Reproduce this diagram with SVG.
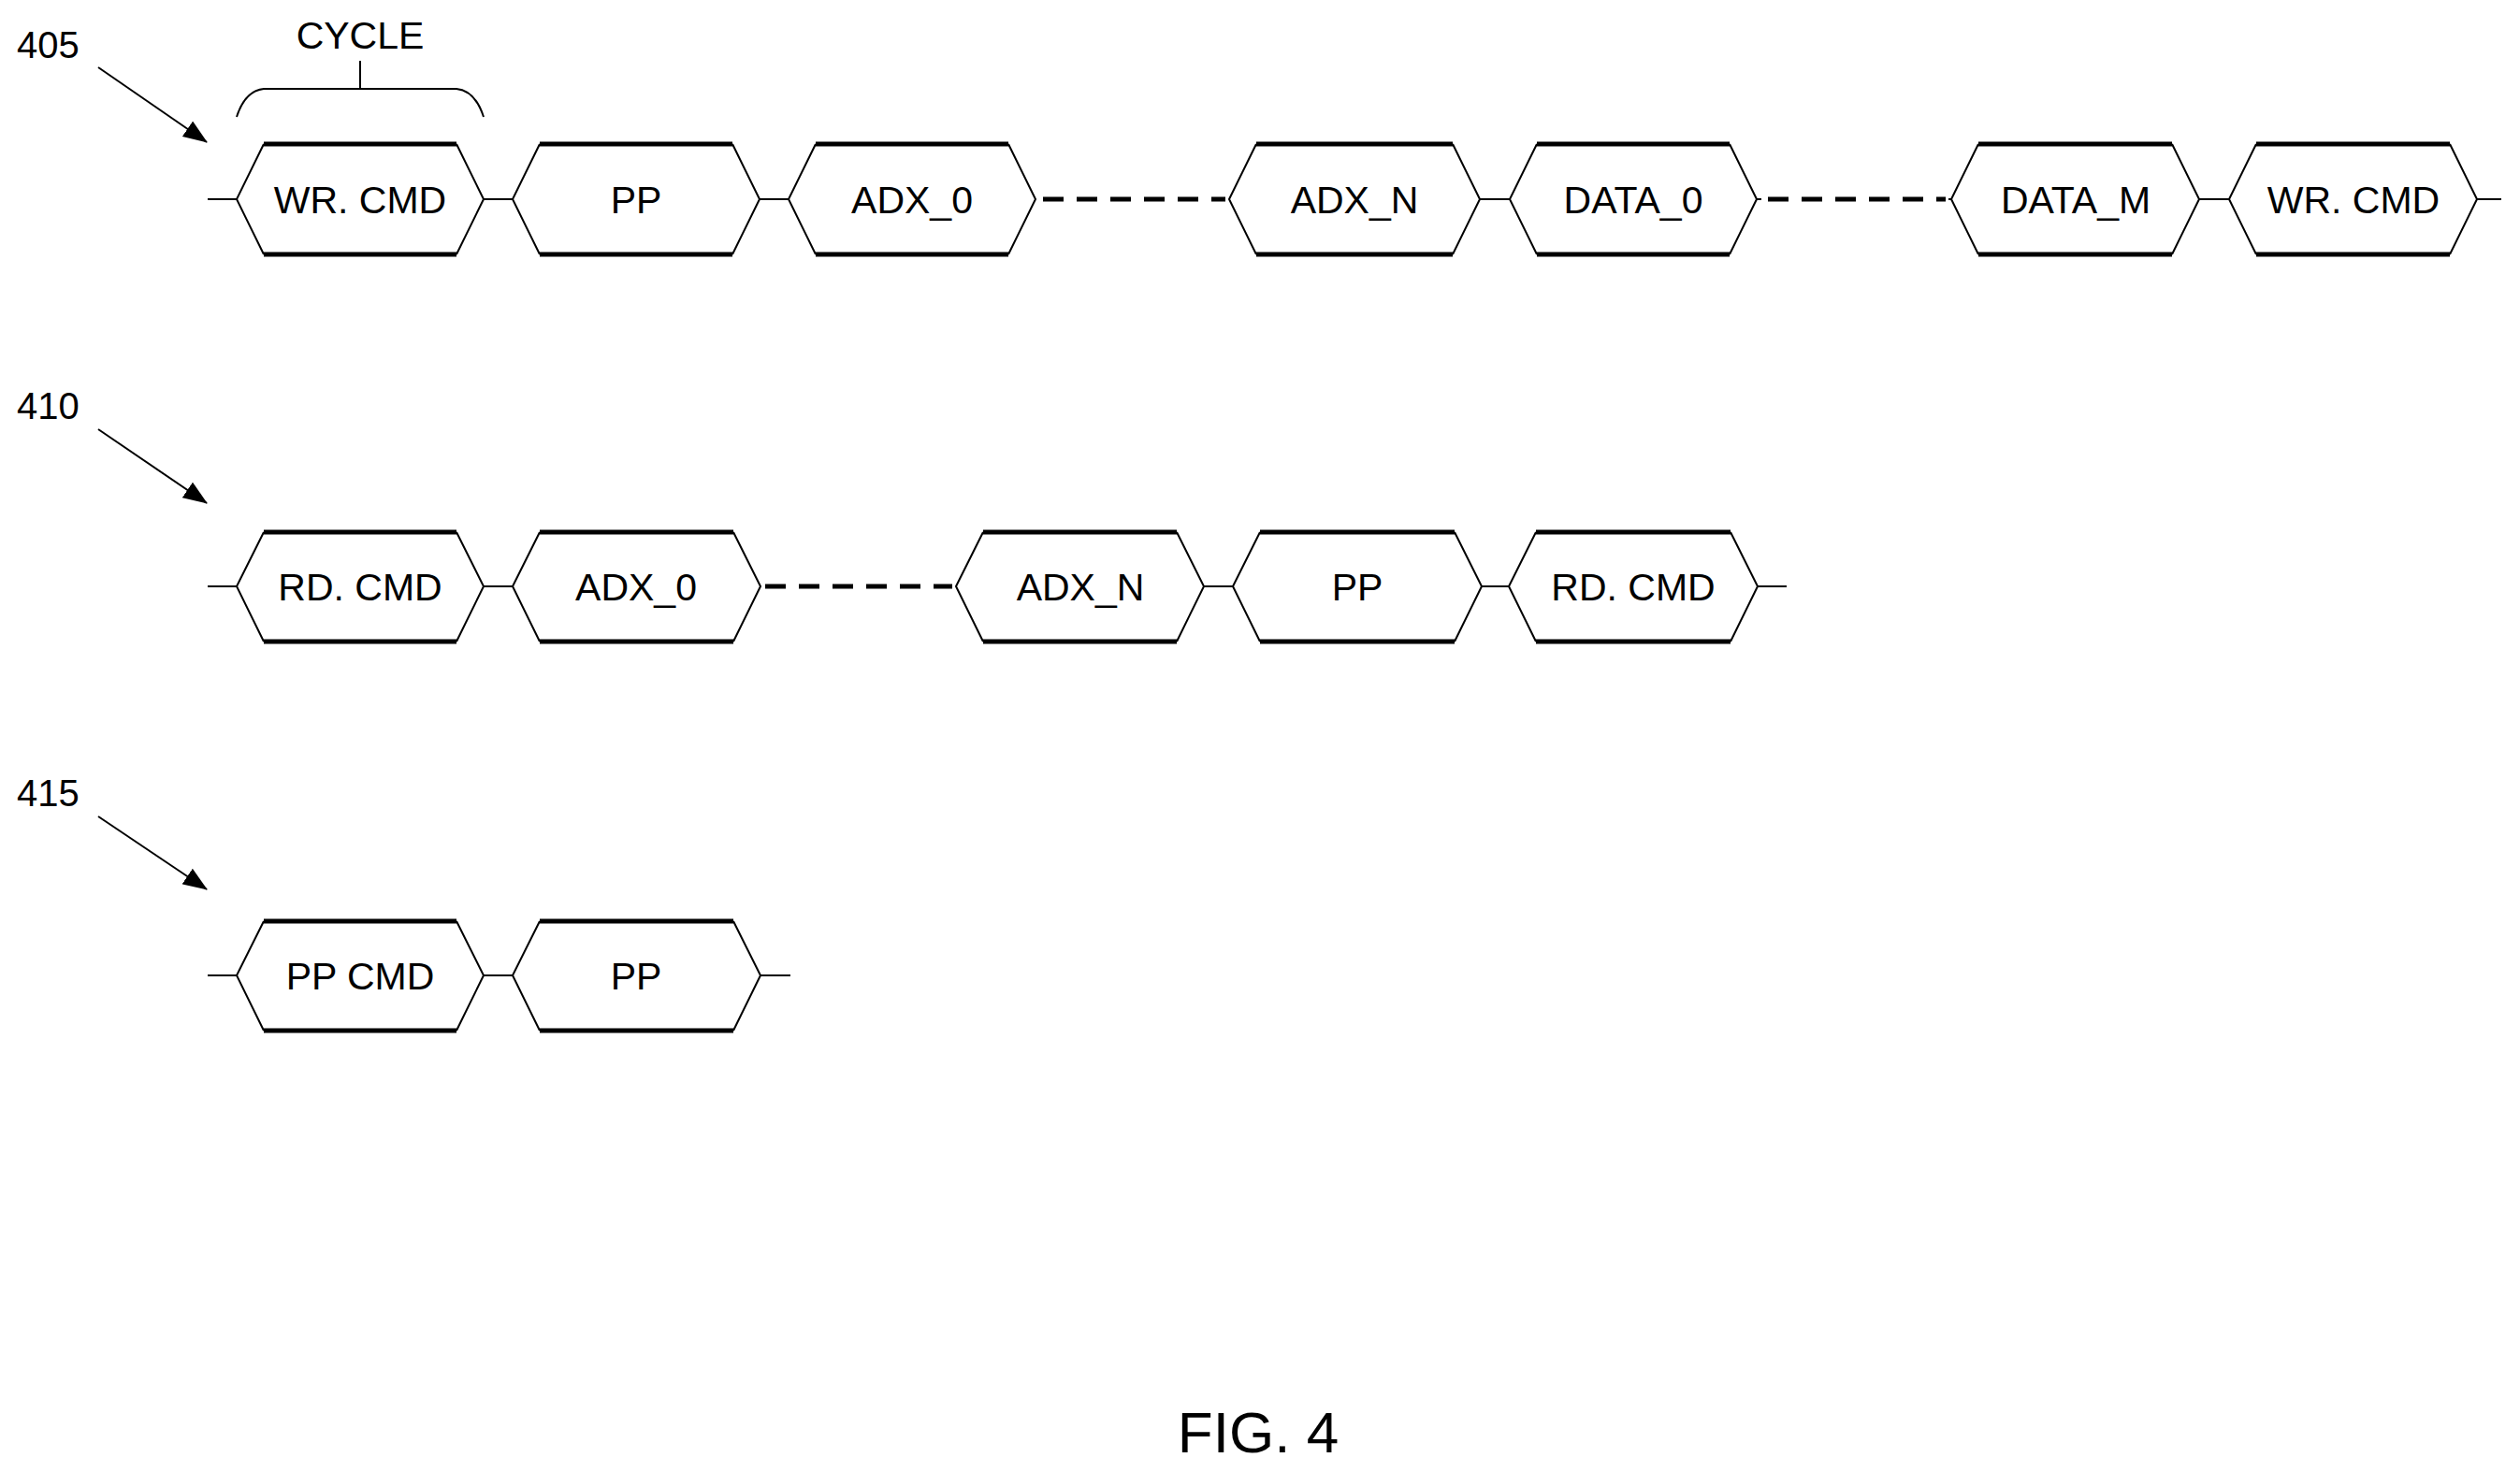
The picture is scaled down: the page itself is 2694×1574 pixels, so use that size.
<svg xmlns="http://www.w3.org/2000/svg" width="2694" height="1574" viewBox="0 0 2694 1574">
<style>
.t{font-family:"Liberation Sans",Arial,sans-serif;font-size:41px;fill:#000;text-anchor:middle}
.l{font-family:"Liberation Sans",Arial,sans-serif;font-size:40px;fill:#000}
.s{stroke:#000;stroke-width:2;fill:none}
.h{stroke:#000;stroke-width:5;fill:none}
.d{stroke:#000;stroke-width:5;stroke-dasharray:22,14;fill:none}
</style>
<defs>
<marker id="a" markerWidth="26" markerHeight="20" refX="25" refY="10" orient="auto" markerUnits="userSpaceOnUse"><path d="M0,0 L26,10 L0,20 z" fill="#000"/></marker>
</defs>
<g id="labels">
<text class="l" x="18" y="62">405</text>
<text class="l" x="18" y="448">410</text>
<text class="l" x="18" y="862">415</text>
<text class="t" x="385" y="52">CYCLE</text>
<text class="t" x="1345" y="1553" style="font-size:62px">FIG. 4</text>
</g>
<g id="connectors">
<line class="s" x1="105" y1="72" x2="221" y2="152" marker-end="url(#a)"/>
<line class="s" x1="105" y1="459" x2="221" y2="538" marker-end="url(#a)"/>
<line class="s" x1="105" y1="873" x2="221" y2="951" marker-end="url(#a)"/>
<path class="s" d="M253,125 Q262,97 282,95 L488,95 Q508,97 517,125 M385,95 L385,65"/>
<path class="s" d="M222,213 H253 M517,213 H548 M812,213 H843 M1582,213 H1614 M1878,213 H1883 M2083,213 H2086 M2351,213 H2383 M2648,213 H2674"/>
<line class="d" x1="1115" y1="213" x2="1310" y2="213"/>
<line class="d" x1="1890" y1="213" x2="2080" y2="213"/>
<path class="s" d="M222,627 H253 M517,627 H548 M1287,627 H1318 M1584,627 H1613 M1879,627 H1910"/>
<line class="d" x1="818" y1="627" x2="1018" y2="627"/>
<path class="s" d="M222,1043 H253 M517,1043 H548 M813,1043 H845"/>
</g>
<g id="row1">
<g id="n1"><path class="s" d="M282,154 L253,213 L282,272 M488,154 L517,213 L488,272"/><path class="h" d="M282,154 H488 M282,272 H488"/><text class="t" x="385" y="228">WR. CMD</text></g>
<g id="n2"><path class="s" d="M577,154 L548,213 L577,272 M783,154 L812,213 L783,272"/><path class="h" d="M577,154 H783 M577,272 H783"/><text class="t" x="680" y="228">PP</text></g>
<g id="n3"><path class="s" d="M872,154 L843,213 L872,272 M1078,154 L1107,213 L1078,272"/><path class="h" d="M872,154 H1078 M872,272 H1078"/><text class="t" x="975" y="228">ADX_0</text></g>
<g id="n4"><path class="s" d="M1343,154 L1314,213 L1343,272 M1553,154 L1582,213 L1553,272"/><path class="h" d="M1343,154 H1553 M1343,272 H1553"/><text class="t" x="1448" y="228">ADX_N</text></g>
<g id="n5"><path class="s" d="M1643,154 L1614,213 L1643,272 M1849,154 L1878,213 L1849,272"/><path class="h" d="M1643,154 H1849 M1643,272 H1849"/><text class="t" x="1746" y="228">DATA_0</text></g>
<g id="n6"><path class="s" d="M2115,154 L2086,213 L2115,272 M2322,154 L2351,213 L2322,272"/><path class="h" d="M2115,154 H2322 M2115,272 H2322"/><text class="t" x="2219" y="228">DATA_M</text></g>
<g id="n7"><path class="s" d="M2412,154 L2383,213 L2412,272 M2619,154 L2648,213 L2619,272"/><path class="h" d="M2412,154 H2619 M2412,272 H2619"/><text class="t" x="2516" y="228">WR. CMD</text></g>
</g>
<g id="row2">
<g id="m1"><path class="s" d="M282,569 L253,627 L282,686 M488,569 L517,627 L488,686"/><path class="h" d="M282,569 H488 M282,686 H488"/><text class="t" x="385" y="642">RD. CMD</text></g>
<g id="m2"><path class="s" d="M577,569 L548,627 L577,686 M784,569 L813,627 L784,686"/><path class="h" d="M577,569 H784 M577,686 H784"/><text class="t" x="680" y="642">ADX_0</text></g>
<g id="m3"><path class="s" d="M1051,569 L1022,627 L1051,686 M1258,569 L1287,627 L1258,686"/><path class="h" d="M1051,569 H1258 M1051,686 H1258"/><text class="t" x="1155" y="642">ADX_N</text></g>
<g id="m4"><path class="s" d="M1347,569 L1318,627 L1347,686 M1555,569 L1584,627 L1555,686"/><path class="h" d="M1347,569 H1555 M1347,686 H1555"/><text class="t" x="1451" y="642">PP</text></g>
<g id="m5"><path class="s" d="M1642,569 L1613,627 L1642,686 M1850,569 L1879,627 L1850,686"/><path class="h" d="M1642,569 H1850 M1642,686 H1850"/><text class="t" x="1746" y="642">RD. CMD</text></g>
</g>
<g id="row3">
<g id="k1"><path class="s" d="M282,985 L253,1043 L282,1102 M488,985 L517,1043 L488,1102"/><path class="h" d="M282,985 H488 M282,1102 H488"/><text class="t" x="385" y="1058">PP CMD</text></g>
<g id="k2"><path class="s" d="M577,985 L548,1043 L577,1102 M784,985 L813,1043 L784,1102"/><path class="h" d="M577,985 H784 M577,1102 H784"/><text class="t" x="680" y="1058">PP</text></g>
</g>
</svg>
